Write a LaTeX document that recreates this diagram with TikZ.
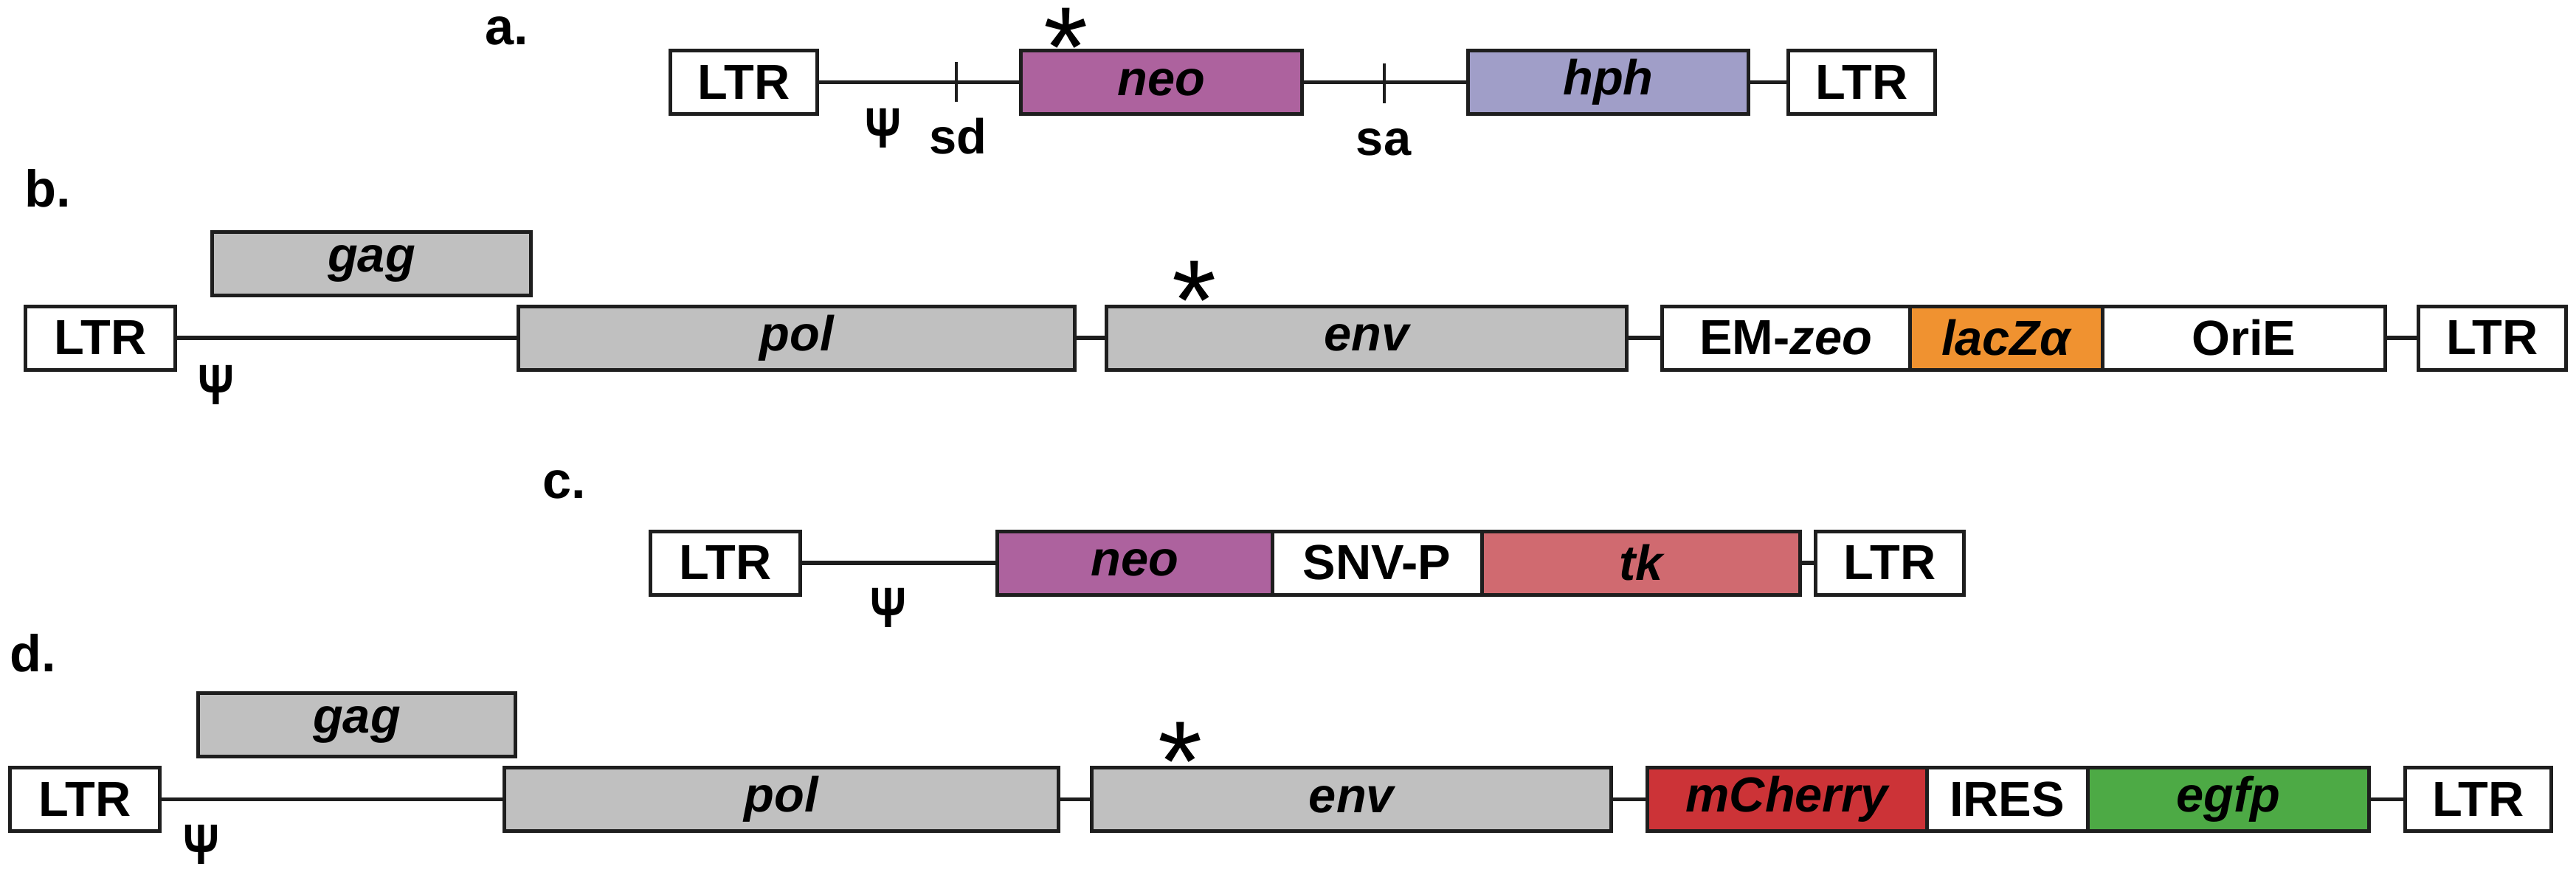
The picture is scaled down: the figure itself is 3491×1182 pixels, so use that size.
\documentclass[tikz,border=0pt]{standalone}
\usepackage{graphicx}
\usepackage{fontspec}
\setmainfont{Liberation Sans}
\definecolor{neocol}{HTML}{AD629E}
\definecolor{hphcol}{HTML}{A09EC8}
\definecolor{graycol}{HTML}{C0C0C0}
\definecolor{lacZcol}{HTML}{F09230}
\definecolor{tkcol}{HTML}{D06A70}
\definecolor{cherrycol}{HTML}{CC3337}
\definecolor{egfpcol}{HTML}{4DAA45}
\definecolor{inkcol}{HTML}{1E1E1E}
\newcommand{\psiglyph}{\scalebox{0.78}[1]{Ψ}}
\begin{document}
\begin{tikzpicture}[x=0.1mm,y=-0.1mm,
  box/.style={draw=inkcol, fill=white, line width=0.5mm, rectangle, minimum height=8.6mm,
    inner sep=0pt, outer sep=0pt, font=\fontsize{19}{19}\selectfont\bfseries},
  gene/.style={box, font=\fontsize{19}{19}\selectfont\bfseries\itshape},
  link/.style={draw=inkcol, line width=0.55mm},
  tickmark/.style={draw=inkcol, line width=0.4mm},
  lbl/.style={font=\fontsize{19}{19}\selectfont\bfseries, inner sep=0pt},
  panel/.style={font=\fontsize{20}{20}\selectfont\bfseries, inner sep=0pt, anchor=base west},
  asterisk/.style={font=\fontsize{44}{44}\selectfont, inner sep=0pt, anchor=north},
  psisym/.style={font=\fontsize{22}{22}\selectfont\bfseries, inner sep=0pt, anchor=north}
]
\fill[white] (0,0) rectangle (3491,1182);
\useasboundingbox (0,0) rectangle (3491,1182);

% ---------------- a ----------------
\node[panel] (la) at (657,60) {a.};
\node[box, minimum width=19.9mm] (LTRa1) at (1008,111.5) {LTR};
\node[gene, fill=neocol, minimum width=38.1mm] (neoa) at (1574,111.5) {neo};
\node[gene, fill=hphcol, minimum width=38.0mm] (hpha) at (2179.5,111.5) {hph};
\node[box, minimum width=19.9mm] (LTRa2) at (2523,111.5) {LTR};
\draw[link] (LTRa1.east) -- (neoa.west);
\draw[link] (neoa.east) -- (hpha.west);
\draw[link] (hpha.east) -- (LTRa2.west);
\draw[tickmark] (1296,84) -- (1296,138);
\draw[tickmark] (1876,86) -- (1876,140);
\node[asterisk] (stara) at (1445,10) {*};
\node[psisym] (psia) at (1197,147) {\psiglyph};
\node[lbl, anchor=base] (sd) at (1298,208) {sd};
\node[lbl, anchor=base] (sa) at (1875,210) {sa};

% ---------------- b ----------------
\node[panel] (lb) at (33,280) {b.};
\node[gene, fill=graycol, minimum width=43.2mm] (gagb) at (503.5,357) {gag};
\node[box, minimum width=20.3mm] (LTRb1) at (136,458) {LTR};
\node[gene, fill=graycol, minimum width=75.4mm] (polb) at (1079.5,458) {pol};
\node[gene, fill=graycol, minimum width=70.5mm] (envb) at (1852,458) {env};
\node[box, minimum width=33.55mm] (emzeo) at (2420.25,458) {EM-\textit{zeo}};
\node[gene, fill=lacZcol, minimum width=26.1mm] (lacz) at (2718.5,458) {lacZα};
\node[box, minimum width=38.35mm] (orie) at (3040.75,458) {OriE};
\node[box, minimum width=20.0mm] (LTRb2) at (3377.5,458) {LTR};
\draw[link] (LTRb1.east) -- (polb.west);
\draw[link] (polb.east) -- (envb.west);
\draw[link] (envb.east) -- (emzeo.west);
\draw[link] (orie.east) -- (LTRb2.west);
\node[asterisk] (starb) at (1619,353) {*};
\node[psisym] (psib) at (293,495) {\psiglyph};

% ---------------- c ----------------
\node[panel] (lc) at (735,675) {c.};
\node[box, minimum width=20.3mm] (LTRc1) at (983,763) {LTR};
\node[gene, fill=neocol, minimum width=37.25mm] (neoc) at (1537.75,763) {neo};
\node[box, minimum width=28.4mm] (snvp) at (1866,763) {SNV-P};
\node[gene, fill=tkcol, minimum width=43.15mm] (tk) at (2223.75,763) {tk};
\node[box, minimum width=20.1mm] (LTRc2) at (2561,763) {LTR};
\draw[link] (LTRc1.east) -- (neoc.west);
\draw[link] (tk.east) -- (LTRc2.west);
\node[psisym] (psic) at (1204,797) {\psiglyph};

% ---------------- d ----------------
\node[panel] (ld) at (13,910) {d.};
\node[gene, fill=graycol, minimum width=43.0mm] (gagd) at (483.5,982.5) {gag};
\node[box, minimum width=20.3mm] (LTRd1) at (115,1083.5) {LTR};
\node[gene, fill=graycol, minimum width=75.1mm] (pold) at (1059,1083.5) {pol};
\node[gene, fill=graycol, minimum width=70.4mm] (envd) at (1831.5,1083.5) {env};
\node[gene, fill=cherrycol, minimum width=37.85mm] (cherry) at (2421.75,1083.5) {mCherry};
\node[box, minimum width=21.8mm] (ires) at (2720,1083.5) {IRES};
\node[gene, fill=egfpcol, minimum width=38.15mm] (egfp) at (3019.75,1083.5) {egfp};
\node[box, minimum width=19.8mm] (LTRd2) at (3358.5,1083.5) {LTR};
\draw[link] (LTRd1.east) -- (pold.west);
\draw[link] (pold.east) -- (envd.west);
\draw[link] (envd.east) -- (cherry.west);
\draw[link] (egfp.east) -- (LTRd2.west);
\node[asterisk] (stard) at (1600,978) {*};
\node[psisym] (psid) at (273,1118) {\psiglyph};
\end{tikzpicture}
\end{document}
